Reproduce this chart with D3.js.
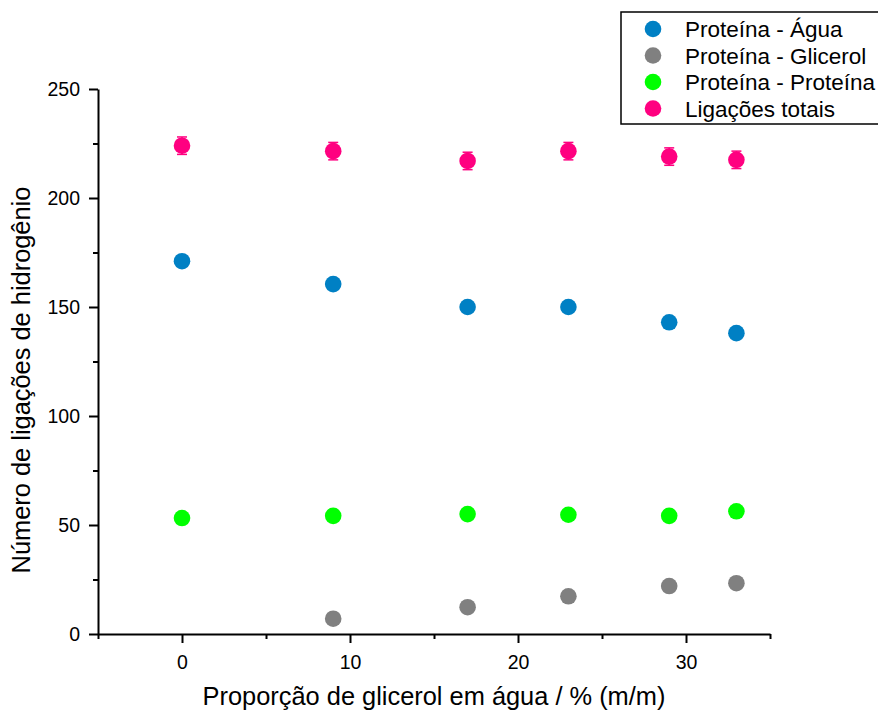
<!DOCTYPE html>
<html>
<head>
<meta charset="utf-8">
<script src="https://cdn.jsdelivr.net/npm/d3@7"></script>
<style>
  html, body { margin: 0; padding: 0; background: #fff; }
  svg { display: block; font-family: "Liberation Sans", Arial, sans-serif; }
</style>
</head>
<body>
<svg id="chart" width="878" height="711"></svg>
<script>
// ---- data ----
const xValues = [0, 9, 17, 23, 29, 33];
const seriesNames = ["Proteína - Água", "Proteína - Glicerol", "Proteína - Proteína", "Ligações totais"];
const seriesColors = ["#0080c4", "#808080", "#00ff00", "#ff0080"];
const aguaValues = [171, 160.5, 150, 150, 143, 138];
const aguaErrors = [1.5, 1.5, 1.5, 1.5, 1.5, 1.5];
const glicerolX = [9, 17, 23, 29, 33];
const glicerolValues = [7, 12.3, 17.3, 22, 23.3];
const glicerolErrors = [1, 1, 1, 1, 1];
const proteinaValues = [53.2, 54.2, 55, 54.7, 54.2, 56.3];
const proteinaErrors = [1.5, 1.5, 1.5, 1.5, 1.5, 1.5];
const totaisValues = [224, 221.5, 217, 221.5, 219, 217.5];
const totaisErrors = [4, 4, 4, 4, 4, 4];
const xMajorTicks = [0, 10, 20, 30];
const xMinorTicks = [-5, 5, 15, 25, 35];
const yMajorTicks = [0, 50, 100, 150, 200, 250];
const yMinorTicks = [25, 75, 125, 175, 225];
const xTitle = "Proporção de glicerol em água / % (m/m)";
const yTitle = "Número de ligações de hidrogênio";

const series = [
  { name: seriesNames[0], color: seriesColors[0], xs: xValues, ys: aguaValues, errs: aguaErrors },
  { name: seriesNames[1], color: seriesColors[1], xs: glicerolX, ys: glicerolValues, errs: glicerolErrors },
  { name: seriesNames[2], color: seriesColors[2], xs: xValues, ys: proteinaValues, errs: proteinaErrors },
  { name: seriesNames[3], color: seriesColors[3], xs: xValues, ys: totaisValues, errs: totaisErrors }
];

// ---- layout ----
const plot = { left: 98, right: 770, top: 89, bottom: 634 };
const svg = d3.select("#chart");

const x = d3.scaleLinear().domain([-5, 35]).range([plot.left, plot.right]);
const y = d3.scaleLinear().domain([0, 250]).range([plot.bottom, plot.top]);

// minor ticks
svg.append("g")
  .attr("transform", `translate(0,${plot.bottom})`)
  .call(d3.axisBottom(x).tickValues(xMinorTicks).tickSize(5).tickFormat(""))
  .call(g => g.select(".domain").remove())
  .call(g => g.selectAll("line").attr("stroke", "#000").attr("stroke-width", 2));
svg.append("g")
  .attr("transform", `translate(${plot.left},0)`)
  .call(d3.axisLeft(y).tickValues(yMinorTicks).tickSize(5).tickFormat(""))
  .call(g => g.select(".domain").remove())
  .call(g => g.selectAll("line").attr("stroke", "#000").attr("stroke-width", 2));

// major axes
const xAxis = svg.append("g")
  .attr("transform", `translate(0,${plot.bottom})`)
  .call(d3.axisBottom(x).tickValues(xMajorTicks).tickSize(9).tickPadding(12).tickSizeOuter(0).tickFormat(d3.format("d")));
const yAxis = svg.append("g")
  .attr("transform", `translate(${plot.left},0)`)
  .call(d3.axisLeft(y).tickValues(yMajorTicks).tickSize(9).tickPadding(9).tickSizeOuter(0).tickFormat(d3.format("d")));

[xAxis, yAxis].forEach(g => {
  g.select(".domain").attr("stroke", "#000").attr("stroke-width", 2);
  g.selectAll(".tick line").attr("stroke", "#000").attr("stroke-width", 2);
  g.selectAll(".tick text").attr("fill", "#000").style("font-size", "19.5px")
    .style("font-family", "'Liberation Sans', Arial, sans-serif");
});

// axis titles
svg.append("text")
  .attr("x", (plot.left + plot.right) / 2)
  .attr("y", 705)
  .attr("text-anchor", "middle")
  .style("font-size", "25.4px")
  .text(xTitle);
svg.append("text")
  .attr("transform", `translate(30,380) rotate(-90)`)
  .attr("text-anchor", "middle")
  .style("font-size", "25.4px")
  .text(yTitle);

// error bars + points
const r = 8.3;
series.forEach(s => {
  const g = svg.append("g");
  const pts = s.xs.map((xv, i) => ({ x: xv, y: s.ys[i], e: s.errs[i] }));
  const eb = g.selectAll(".eb").data(pts).enter().append("g").attr("stroke", s.color).attr("stroke-width", 1.5);
  eb.append("line").attr("x1", d => x(d.x)).attr("x2", d => x(d.x)).attr("y1", d => y(d.y - d.e)).attr("y2", d => y(d.y + d.e));
  eb.append("line").attr("x1", d => x(d.x) - 5).attr("x2", d => x(d.x) + 5).attr("y1", d => y(d.y - d.e)).attr("y2", d => y(d.y - d.e));
  eb.append("line").attr("x1", d => x(d.x) - 5).attr("x2", d => x(d.x) + 5).attr("y1", d => y(d.y + d.e)).attr("y2", d => y(d.y + d.e));
  g.selectAll("circle").data(pts).enter().append("circle")
    .attr("cx", d => x(d.x)).attr("cy", d => y(d.y)).attr("r", r).attr("fill", s.color);
});

// legend
const legend = svg.append("g");
legend.append("rect")
  .attr("x", 621).attr("y", 12).attr("width", 260).attr("height", 112)
  .attr("fill", "#fff").attr("stroke", "#000").attr("stroke-width", 1.5);
series.forEach((s, i) => {
  const cy = 29 + i * 26.5;
  legend.append("circle").attr("cx", 653).attr("cy", cy).attr("r", r).attr("fill", s.color);
  legend.append("text").attr("x", 685).attr("y", cy + 8).style("font-size", "22.5px").text(s.name);
});
</script>
</body>
</html>
